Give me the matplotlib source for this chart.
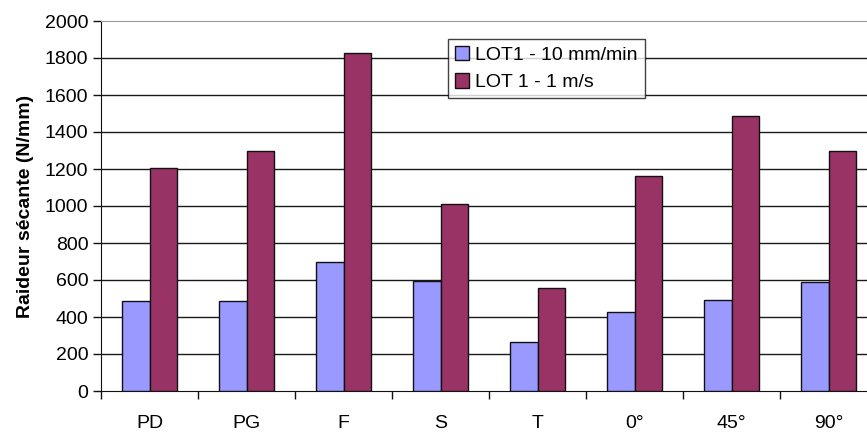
import matplotlib
matplotlib.use("Agg")
import matplotlib.pyplot as plt
import numpy as np

categories = ["PD", "PG", "F", "S", "T", "0°", "45°", "90°"]
lot1_slow = [485, 485, 695, 595, 265, 425, 490, 590]
lot1_fast = [1205, 1300, 1825, 1010, 555, 1160, 1485, 1300]
series_labels = ["LOT1 - 10 mm/min", "LOT 1 - 1 m/s"]
yticks = list(range(0, 2001, 200))

plt.rcParams['font.family'] = ['Liberation Sans', 'DejaVu Sans']

W, H = 867, 433
fig = plt.figure(figsize=(W / 100, H / 100), dpi=100)
left, right, bottom, top = 101, 877, 391, 21
ax = fig.add_axes([left / W, (H - bottom) / H, (right - left) / W, (bottom - top) / H])

x = np.arange(len(categories))
bw = 0.285
ax.bar(x - bw / 2, lot1_slow, bw, color="#9999FF", edgecolor="#111111", linewidth=1, label=series_labels[0], zorder=3)
ax.bar(x + bw / 2, lot1_fast, bw, color="#993366", edgecolor="#111111", linewidth=1, label=series_labels[1], zorder=3)

ax.set_xlim(-0.5, len(categories) - 0.5)
ax.set_ylim(0, 2000)
ax.set_yticks(yticks)
ax.set_yticklabels([str(v) for v in yticks], fontsize=14)
for v in yticks[1:-1]:
    ax.axhline(v, color="#1a1a1a", linewidth=1, zorder=1)

ax.set_xticks(x)
ax.set_xticklabels(categories, fontsize=14)
ax.tick_params(axis='x', which='major', length=0, pad=17)
ax.set_xticks(np.arange(-0.5, len(categories) - 0.4, 1), minor=True)
ax.tick_params(axis='x', which='minor', length=6, width=1, color="#111111", direction='out')
ax.tick_params(axis='y', length=6, width=1, color="#111111", direction='out', pad=3)

ax.spines['top'].set_color("#999999")
ax.spines['right'].set_visible(False)
ax.spines['left'].set_color("#111111")
ax.spines['bottom'].set_color("#111111")

ax.set_ylabel("Raideur sécante (N/mm)", fontsize=14, fontweight='bold', labelpad=8)

leg = ax.legend(loc='upper left', bbox_to_anchor=((448 - left) / (right - left), (bottom - 39) / (bottom - top)),
                fontsize=14, frameon=True, fancybox=False, edgecolor="#111111",
                handlelength=0.75, handleheight=0.75, handletextpad=0.3, borderpad=0.35,
                labelspacing=0.5, borderaxespad=0)
leg.get_frame().set_linewidth(1)

fig.savefig("out.png", dpi=100)
